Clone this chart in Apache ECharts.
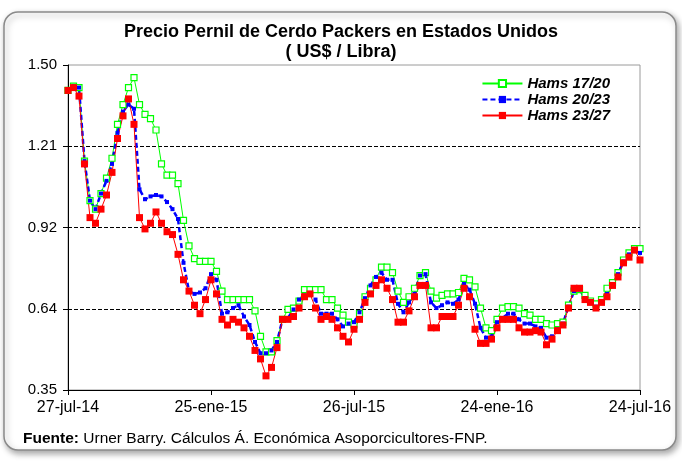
<!DOCTYPE html>
<html>
<head>
<meta charset="utf-8">
<script src="https://cdn.jsdelivr.net/npm/echarts@6/dist/echarts.min.js"></script>
<style>
  html, body { margin: 0; padding: 0; background: #fff; }
  #chart { width: 682px; height: 464px; }
</style>
</head>
<body>
<div id="chart"></div>
<script>
// weekly prices, 27-jul-14 .. 24-jul-16 (105 weeks)
const hams1720 = [
  1.41, 1.425, 1.42, 1.16, 1.02, 0.99, 1.045, 1.10, 1.17, 1.29,
  1.36, 1.42, 1.455, 1.36, 1.325, 1.31, 1.27, 1.15, 1.11, 1.11,
  1.08, 0.95, 0.86, 0.815, 0.805, 0.805, 0.805, 0.77, 0.70, 0.67,
  0.67, 0.67, 0.67, 0.67, 0.63, 0.54, 0.485, 0.485, 0.525, 0.60,
  0.635, 0.64, 0.665, 0.705, 0.705, 0.705, 0.705, 0.67, 0.67, 0.64,
  0.615, 0.59, 0.58, 0.62, 0.68, 0.71, 0.74, 0.785, 0.785, 0.765,
  0.70, 0.66, 0.68, 0.71, 0.755, 0.765, 0.70, 0.675, 0.685, 0.69,
  0.69, 0.695, 0.745, 0.74, 0.715, 0.64, 0.57, 0.56, 0.60, 0.64,
  0.645, 0.645, 0.64, 0.62, 0.615, 0.60, 0.60, 0.585, 0.58, 0.585,
  0.59, 0.65, 0.70, 0.705, 0.685, 0.665, 0.655, 0.67, 0.71, 0.73,
  0.765, 0.81, 0.835, 0.85, 0.85
];
const hams2023 = [
  1.41, 1.425, 1.42, 1.16, 1.02, 0.99, 1.045, 1.09, 1.15, 1.26,
  1.335, 1.36, 1.345, 1.06, 1.025, 1.035, 1.04, 1.035, 1.015, 0.99,
  0.955, 0.80, 0.70, 0.69, 0.695, 0.71, 0.76, 0.74, 0.62, 0.625,
  0.64, 0.65, 0.61, 0.58, 0.52, 0.48, 0.48, 0.49, 0.52, 0.60,
  0.605, 0.635, 0.67, 0.685, 0.69, 0.67, 0.62, 0.62, 0.62, 0.60,
  0.575, 0.585, 0.59, 0.625, 0.675, 0.72, 0.75, 0.765, 0.74, 0.74,
  0.655, 0.625, 0.66, 0.69, 0.755, 0.76, 0.66, 0.64, 0.65, 0.66,
  0.655, 0.67, 0.725, 0.705, 0.655, 0.57, 0.535, 0.54, 0.59, 0.605,
  0.62, 0.62, 0.60, 0.585, 0.585, 0.575, 0.57, 0.535, 0.54, 0.565,
  0.585, 0.645, 0.70, 0.705, 0.675, 0.66, 0.645, 0.665, 0.69, 0.725,
  0.76, 0.805, 0.83, 0.845, 0.835
];
const hams2327 = [
  1.41, 1.42, 1.39, 1.15, 0.96, 0.94, 0.99, 1.04, 1.12, 1.24,
  1.32, 1.38, 1.29, 0.96, 0.92, 0.94, 0.98, 0.94, 0.91, 0.90,
  0.83, 0.74, 0.70, 0.65, 0.62, 0.67, 0.74, 0.69, 0.60, 0.58,
  0.60, 0.59, 0.57, 0.54, 0.49, 0.46, 0.40, 0.43, 0.50, 0.60,
  0.60, 0.61, 0.64, 0.68, 0.69, 0.64, 0.60, 0.61, 0.60, 0.57,
  0.54, 0.52, 0.565, 0.60, 0.66, 0.69, 0.72, 0.74, 0.71, 0.67,
  0.59, 0.59, 0.63, 0.68, 0.72, 0.72, 0.57, 0.57, 0.61, 0.61,
  0.61, 0.65, 0.71, 0.68, 0.565, 0.515, 0.515, 0.53, 0.57, 0.60,
  0.60, 0.60, 0.57, 0.555, 0.555, 0.56, 0.555, 0.51, 0.53, 0.56,
  0.58, 0.64, 0.71, 0.71, 0.67, 0.66, 0.64, 0.66, 0.68, 0.72,
  0.75, 0.80, 0.82, 0.845, 0.81
];
const xTickLabels = ['27-jul-14', '25-ene-15', '26-jul-15', '24-ene-16', '24-jul-16'];
const yTickLabels = ['0.35', '0.64', '0.92', '1.21', '1.50'];

const font = "'Liberation Sans', Arial, sans-serif";

const toPairs = arr => arr.map((v, i) => [i, v]);

const chart = echarts.init(document.getElementById('chart'));
chart.setOption({
  backgroundColor: '#fff',
  animation: false,
  graphic: [
    {
      type: 'rect', z: -10,
      shape: { x: 4, y: 12, width: 672, height: 438, r: 14 },
      style: { fill: '#fff', stroke: '#8a8a8a', lineWidth: 1.5,
        shadowBlur: 6, shadowOffsetX: 2, shadowOffsetY: 3, shadowColor: 'rgba(0,0,0,0.35)' }
    },
    {
      type: 'text', left: 23, top: 431,
      style: {
        text: '{b|Fuente:} Urner Barry. Cálculos Á. Económica Asoporcicultores-FNP.',
        font: '15.5px ' + font, fill: '#000',
        rich: { b: { fontWeight: 'bold', fontSize: 15.5, fontFamily: font } }
      }
    }
  ],
  title: {
    text: 'Precio Pernil de Cerdo Packers en Estados Unidos\n( US$ / Libra)',
    left: 'center', top: 17,
    textStyle: { fontSize: 18, fontWeight: 'bold', fontFamily: font, color: '#000', lineHeight: 20 }
  },
  legend: {
    orient: 'vertical', right: 72, top: 76,
    itemWidth: 40, itemHeight: 9, itemGap: 1, padding: 0,
    textStyle: { fontSize: 15, fontStyle: 'italic', fontWeight: 'bold', fontFamily: font, color: '#000' },
    data: ['Hams 17/20', 'Hams 20/23', 'Hams 23/27']
  },
  grid: {
    left: 68, right: 42, top: 65, bottom: 74,
    show: true, borderColor: '#9a9a9a', borderWidth: 1, backgroundColor: '#fff'
  },
  xAxis: {
    type: 'value', min: 0, max: 104, interval: 26,
    axisLine: { lineStyle: { color: '#000', width: 1 } },
    axisTick: { show: true, length: 5, lineStyle: { color: '#000' } },
    splitLine: { show: false },
    axisLabel: {
      margin: 10, fontSize: 16, fontFamily: font, color: '#000',
      formatter: v => xTickLabels[Math.round(v / 26)]
    }
  },
  yAxis: {
    type: 'value', min: 0.35, max: 1.5, interval: 0.2875,
    axisLine: { show: true, lineStyle: { color: '#000', width: 1 } },
    axisTick: { show: true, length: 5, lineStyle: { color: '#000' } },
    splitLine: {
      show: true,
      lineStyle: { color: ['transparent', '#000', '#000', '#000', 'transparent'], type: [4, 2], width: 1 }
    },
    axisLabel: {
      margin: 11, fontSize: 15, fontFamily: font, color: '#000',
      formatter: v => yTickLabels[Math.round((v - 0.35) / 0.2875)]
    }
  },
  series: [
    {
      name: 'Hams 17/20', type: 'line', data: toPairs(hams1720),
      symbol: 'rect', symbolSize: 6, showAllSymbol: true,
      itemStyle: { color: '#fff', borderColor: '#00ff00', borderWidth: 1.2 },
      lineStyle: { color: '#00ff00', width: 1 }
    },
    {
      name: 'Hams 20/23', type: 'line', data: toPairs(hams2023),
      symbol: 'rect', symbolSize: 4, showAllSymbol: true,
      itemStyle: { color: '#0000ff', borderWidth: 0 },
      lineStyle: { color: '#0000ff', width: 2.5, type: [5, 3] }
    },
    {
      name: 'Hams 23/27', type: 'line', data: toPairs(hams2327),
      symbol: 'rect', symbolSize: 7, showAllSymbol: true,
      itemStyle: { color: '#ff0000', borderWidth: 0 },
      lineStyle: { color: '#ff0000', width: 1 }
    }
  ]
});
</script>
</body>
</html>
